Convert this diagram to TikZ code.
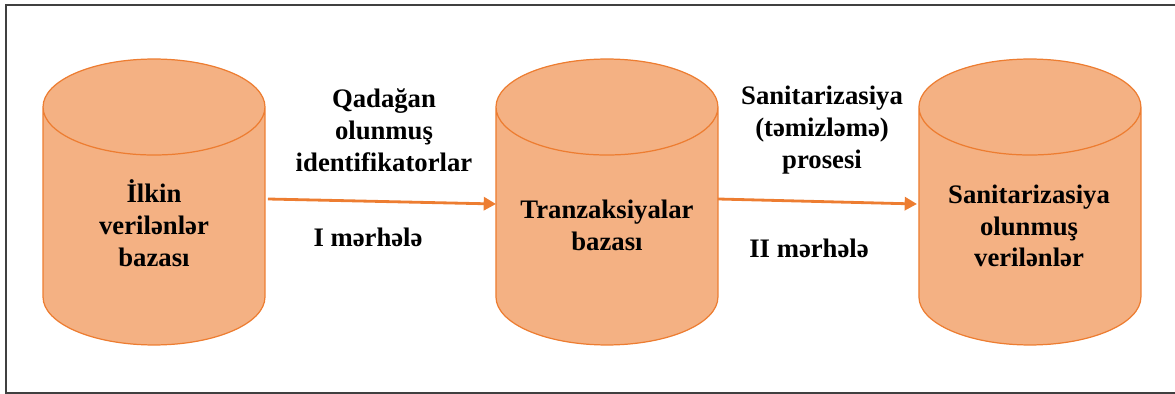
\documentclass[tikz,border=0pt]{standalone}
\usepackage{fontspec}
\setmainfont{Liberation Serif}
\usetikzlibrary{shapes.geometric, positioning, arrows.meta}
\definecolor{barrel}{HTML}{F4B183}
\definecolor{barrelline}{HTML}{ED7D31}
\definecolor{framegray}{HTML}{404040}
\tikzset{
  baza/.style={cylinder, shape border rotate=90, aspect=1, inner xsep=0.96cm, draw=barrelline, fill=barrel, line width=0.7pt,
    minimum width=4.44cm, minimum height=5.72cm, outer sep=0pt},
  yazi/.style={align=center, inner sep=0pt, font=\fontsize{15.2}{18.1}\selectfont\bfseries},
  axin/.style={draw=barrelline, line width=1.6pt, -{Triangle[length=7pt,width=7.5pt]}}
}
\begin{document}
\begin{tikzpicture}[x=0.02cm, y=-0.02cm]
\useasboundingbox (0,0) rectangle (1175,394);
\draw[framegray, line width=0.9pt] (1180,5) -- (6,5) -- (6,393) -- (1180,393);

\node[baza, anchor=shape center] (ilkin) at (154,202) {};
\node[baza, right=4.62cm of ilkin] (tranz) {};
\node[baza, right=4.02cm of tranz] (sanit) {};

\node[yazi] (ilkintxt) at (154,223) {İlkin\\verilənlər\\bazası};
\node[yazi] (tranztxt) at (607,225) {Tranzaksiyalar\\bazası};
\node[yazi] (sanittxt) at (1029,226) {Sanitarizasiya\\olunmuş\\verilənlər};

\node[yazi] (qadagan) at (384,130) {Qadağan\\olunmuş\\identifikatorlar};
\node[yazi] (merhele1) at (368,237) {I mərhələ};
\node[yazi] (temiz) at (822,130) {Sanitarizasiya\\(təmizləmə)\\prosesi};
\node[yazi] (merhele2) at (809,248) {II mərhələ};

% slightly sloped arrows
\draw[axin] ([shift={(2.28cm,0.06cm)}]ilkin.shape center) -- ([shift={(-2.22cm,-0.04cm)}]tranz.shape center);
\draw[axin] ([shift={(2.22cm,0.06cm)}]tranz.shape center) -- ([shift={(-2.26cm,-0.04cm)}]sanit.shape center);
\end{tikzpicture}
\end{document}
